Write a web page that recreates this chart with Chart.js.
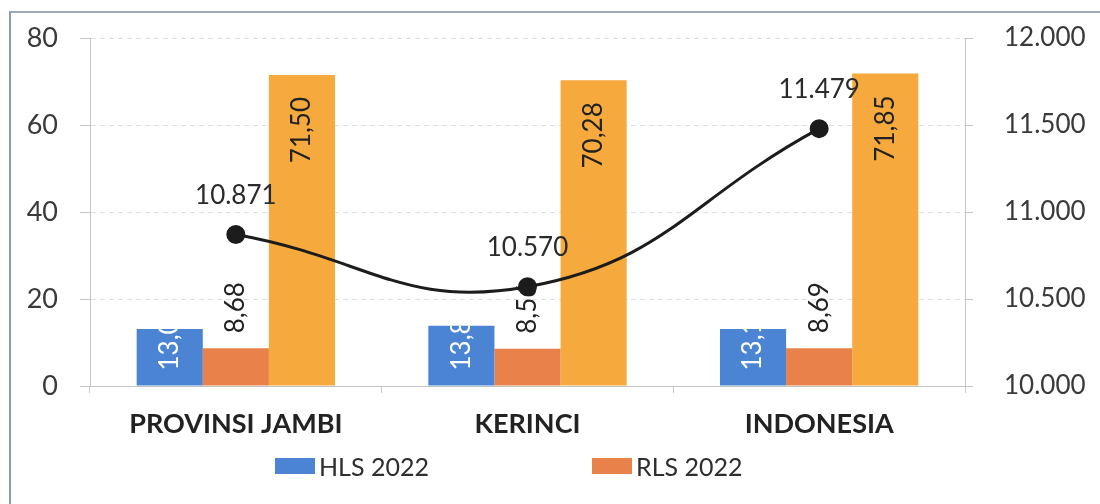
<!DOCTYPE html>
<html>
<head>
<meta charset="utf-8">
<script src="https://cdn.jsdelivr.net/npm/chart.js@4"></script>
<style>
  html, body { margin: 0; padding: 0; background: #fff; }
  #wrap { position: relative; width: 1100px; height: 504px; overflow: hidden; }
  #frame { position: absolute; left: 9px; top: 11px; right: -6px; bottom: -6px;
           border-left: 2px solid #8e9aad; border-top: 2px solid #9ea8b8; }
  canvas { position: absolute; left: 0; top: 0; }
  .lg { position: absolute; top: 451px; display: flex; align-items: center;
        font: 25px Lato, "Open Sans", sans-serif; color: #2e2e2e; white-space: nowrap; }
  .lg i { display: inline-block; width: 40px; height: 16px; margin-right: 4px; }
</style>
</head>
<body>
<div id="wrap">
  <div id="frame"></div>
  <canvas id="c" width="1100" height="504"></canvas>
  <div id="legend"></div>
</div>
<script>
// Regions shown on the category axis
const categories = ['PROVINSI JAMBI', 'KERINCI', 'INDONESIA'];

// Bar series (left axis)
const hls2022 = [13.09, 13.86, 13.10];
const rls2022 = [8.68, 8.56, 8.69];
const uhh2022 = [71.50, 70.28, 71.85];

// Line series (right axis)
const pengeluaran2022 = [10871, 10570, 11479];

// Axis tick values
const leftTicks = [0, 20, 40, 60, 80];
const rightTicks = [10000, 10500, 11000, 11500, 12000];

const FONT = 'Lato, "Open Sans", sans-serif';
const comma = v => v.toFixed(2).replace('.', ',');
const dotted = v => Math.round(v).toString().replace(/\B(?=(\d{3})+(?!\d))/g, '.');

const COLORS = { hls: '#4a84d2', rls: '#e8814a', uhh: '#f6aa3e', line: '#1c1c1c' };

// Draws value labels for each dataset right after that dataset is drawn,
// so the line and its markers sit on top of the bar labels.
const valueLabels = {
  id: 'valueLabels',
  afterDatasetDraw(chart, args) {
    const ds = chart.data.datasets[args.index];
    const cfg = ds.valueLabel;
    if (!cfg) return;
    const ctx = chart.ctx;
    ctx.save();
    ctx.font = `${cfg.size || 26}px ${FONT}`;
    ctx.fillStyle = cfg.color;
    args.meta.data.forEach((el, i) => {
      const txt = cfg.format(ds.data[i]);
      if (cfg.mode === 'above') {
        ctx.textAlign = 'center';
        ctx.textBaseline = 'middle';
        ctx.fillText(txt, el.x, el.y - cfg.offset);
        return;
      }
      const p = el.getProps(['x', 'y', 'base', 'width'], true);
      ctx.save();
      if (cfg.clip) {
        ctx.beginPath();
        ctx.rect(p.x - p.width / 2, p.y, p.width, p.base - p.y);
        ctx.clip();
      }
      let anchorY, align;
      if (cfg.mode === 'base') { anchorY = p.base - cfg.offset; align = 'left'; }
      else if (cfg.mode === 'outside') { anchorY = p.y - cfg.offset; align = 'left'; }
      else { anchorY = p.y + cfg.offset; align = 'right'; }
      ctx.translate(p.x, anchorY);
      ctx.rotate(-Math.PI / 2);
      ctx.textAlign = align;
      ctx.textBaseline = 'middle';
      ctx.fillText(txt, 0, 0);
      ctx.restore();
    });
    ctx.restore();
  }
};

// Vertical axes: keep the plot area height independent of label padding
const noVerticalPadding = (width) => s => {
  s.width = width;
  s.paddingTop = 0;
  s.paddingBottom = 0;
};

const datasets = [
  {
    type: 'line', label: 'Pengeluaran per Kapita 2022', data: pengeluaran2022, yAxisID: 'y1',
    order: 0, borderColor: COLORS.line, backgroundColor: COLORS.line, borderWidth: 3,
    pointRadius: 8, pointHoverRadius: 8, pointBackgroundColor: COLORS.line,
    pointBorderColor: COLORS.line, tension: 0.45, fill: false,
    valueLabel: { mode: 'above', offset: 39, color: '#2b2b2b', format: dotted }
  },
  {
    label: 'HLS 2022', data: hls2022, backgroundColor: COLORS.hls, yAxisID: 'y', order: 1,
    legend: true,
    valueLabel: { mode: 'base', offset: 15, color: '#ffffff', clip: true, format: comma }
  },
  {
    label: 'RLS 2022', data: rls2022, backgroundColor: COLORS.rls, yAxisID: 'y', order: 1,
    legend: true,
    valueLabel: { mode: 'outside', offset: 15, color: '#222', format: comma }
  },
  {
    label: 'UHH 2022', data: uhh2022, backgroundColor: COLORS.uhh, yAxisID: 'y', order: 1,
    valueLabel: { mode: 'end', offset: 22, color: '#222', format: comma }
  }
];

const chart = new Chart(document.getElementById('c'), {
  type: 'bar',
  data: { labels: categories, datasets },
  plugins: [valueLabels],
  options: {
    responsive: false,
    animation: false,
    devicePixelRatio: 1,
    layout: { padding: { top: 38, bottom: 58, left: 0, right: 0 } },
    datasets: { bar: { categoryPercentage: 0.68, barPercentage: 1.0 } },
    plugins: { legend: { display: false }, tooltip: { enabled: false } },
    scales: {
      x: {
        grid: { offset: true, drawOnChartArea: false, drawTicks: true, tickLength: 7, color: '#c9c9c9' },
        border: { display: true, color: '#c4c4c4', width: 1 },
        ticks: { color: '#222', padding: 15, font: { family: FONT, size: 27, weight: 'bold' } },
        afterFit: s => { s.height = 60; }
      },
      y: {
        position: 'left',
        min: leftTicks[0], max: leftTicks[leftTicks.length - 1],
        afterBuildTicks: s => { s.ticks = leftTicks.map(v => ({ value: v })); },
        grid: { color: '#dedede', tickLength: 10, tickColor: '#c4c4c4', tickBorderDash: [] },
        border: { display: true, color: '#c4c4c4', dash: [5, 4] },
        ticks: { color: '#3a3a3a', padding: 22, font: { family: FONT, size: 27 } },
        afterFit: noVerticalPadding(90)
      },
      y1: {
        position: 'right',
        min: rightTicks[0], max: rightTicks[rightTicks.length - 1],
        afterBuildTicks: s => { s.ticks = rightTicks.map(v => ({ value: v })); },
        grid: { drawOnChartArea: false, tickLength: 8, color: '#c4c4c4', tickColor: '#c4c4c4' },
        border: { display: true, color: '#c4c4c4' },
        ticks: { color: '#3a3a3a', padding: 31, font: { family: FONT, size: 26 }, callback: v => dotted(v) },
        afterFit: noVerticalPadding(135)
      }
    }
  }
});

// Legend built from the flagged bar series
const legendPos = { 'HLS 2022': 275, 'RLS 2022': 592 };
const legendEl = document.getElementById('legend');
datasets.filter(d => d.legend).forEach(d => {
  const item = document.createElement('div');
  item.className = 'lg';
  item.style.left = legendPos[d.label] + 'px';
  const sw = document.createElement('i');
  sw.style.background = d.backgroundColor;
  item.appendChild(sw);
  item.appendChild(document.createTextNode(d.label));
  legendEl.appendChild(item);
});
</script>
</body>
</html>
